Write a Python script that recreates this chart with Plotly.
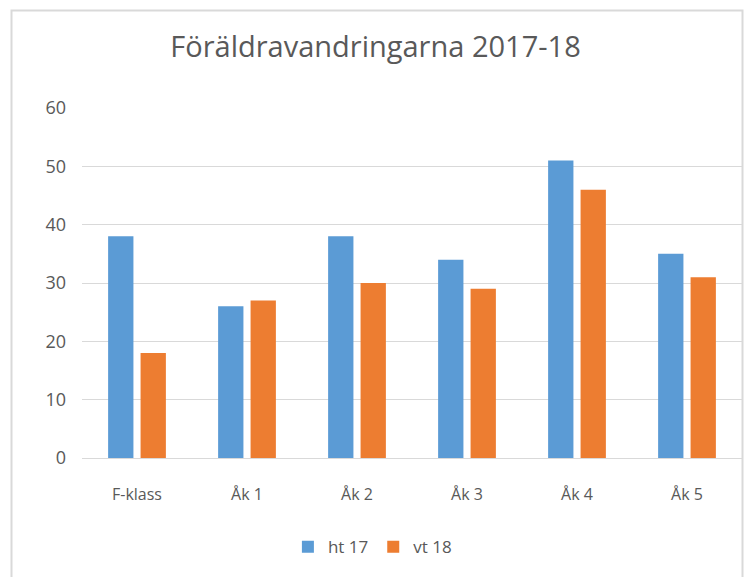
import plotly.graph_objects as go

categories = ["F-klass", "Åk 1", "Åk 2", "Åk 3", "Åk 4", "Åk 5"]
ht17 = [38, 26, 38, 34, 51, 35]
vt18 = [18, 27, 30, 29, 46, 31]
y_ticks = [0, 10, 20, 30, 40, 50, 60]

FONT = "Open Sans"
TXT = "#595959"
GRID = "#d9d9d9"

fig = go.Figure()
fig.add_trace(go.Bar(x=categories, y=ht17, name="ht 17", marker_color="#5B9BD5", marker_line_width=0))
fig.add_trace(go.Bar(x=categories, y=vt18, name="vt 18", marker_color="#ED7D31", marker_line_width=0))

fig.update_layout(
    width=748, height=577,
    margin=dict(l=82, r=6, t=108, b=119),
    paper_bgcolor="white", plot_bgcolor="white",
    barmode="group", bargap=0.41, bargroupgap=0.22,
    title=dict(text="Föräldravandringarna 2017-18", x=0.502, xanchor="center",
               y=1 - 47 / 577, yanchor="middle",
               font=dict(family=FONT, size=29, color=TXT)),
    font=dict(family=FONT, color=TXT, size=15),
    legend=dict(orientation="h", x=0.44, xanchor="center", y=-0.255, yanchor="middle",
                font=dict(family=FONT, size=17, color=TXT), itemwidth=30,
                traceorder="normal"),
    showlegend=True,
    xaxis=dict(showgrid=False, showline=True, linecolor=GRID, linewidth=1,
               ticks="", ticklabelstandoff=22,
               tickfont=dict(family=FONT, size=16, color=TXT)),
    yaxis=dict(range=[0, 60], tickvals=y_ticks, showgrid=True, gridcolor=GRID,
               gridwidth=1, zeroline=False, showline=False, ticks="",
               ticklabelstandoff=15,
               tickfont=dict(family=FONT, size=18, color=TXT)),
)

fig.add_shape(type="rect", xref="paper", yref="paper",
              x0=(11.5 - 82) / 660, x1=(742.5 - 82) / 660,
              y0=(458 - 590) / 350, y1=(458 - 10.5) / 350,
              line=dict(color=GRID, width=2), fillcolor="rgba(0,0,0,0)", layer="below")

fig.write_html("out.html", config={"displayModeBar": False},
               post_script="document.body.style.margin='0';document.body.style.overflow='hidden';")
